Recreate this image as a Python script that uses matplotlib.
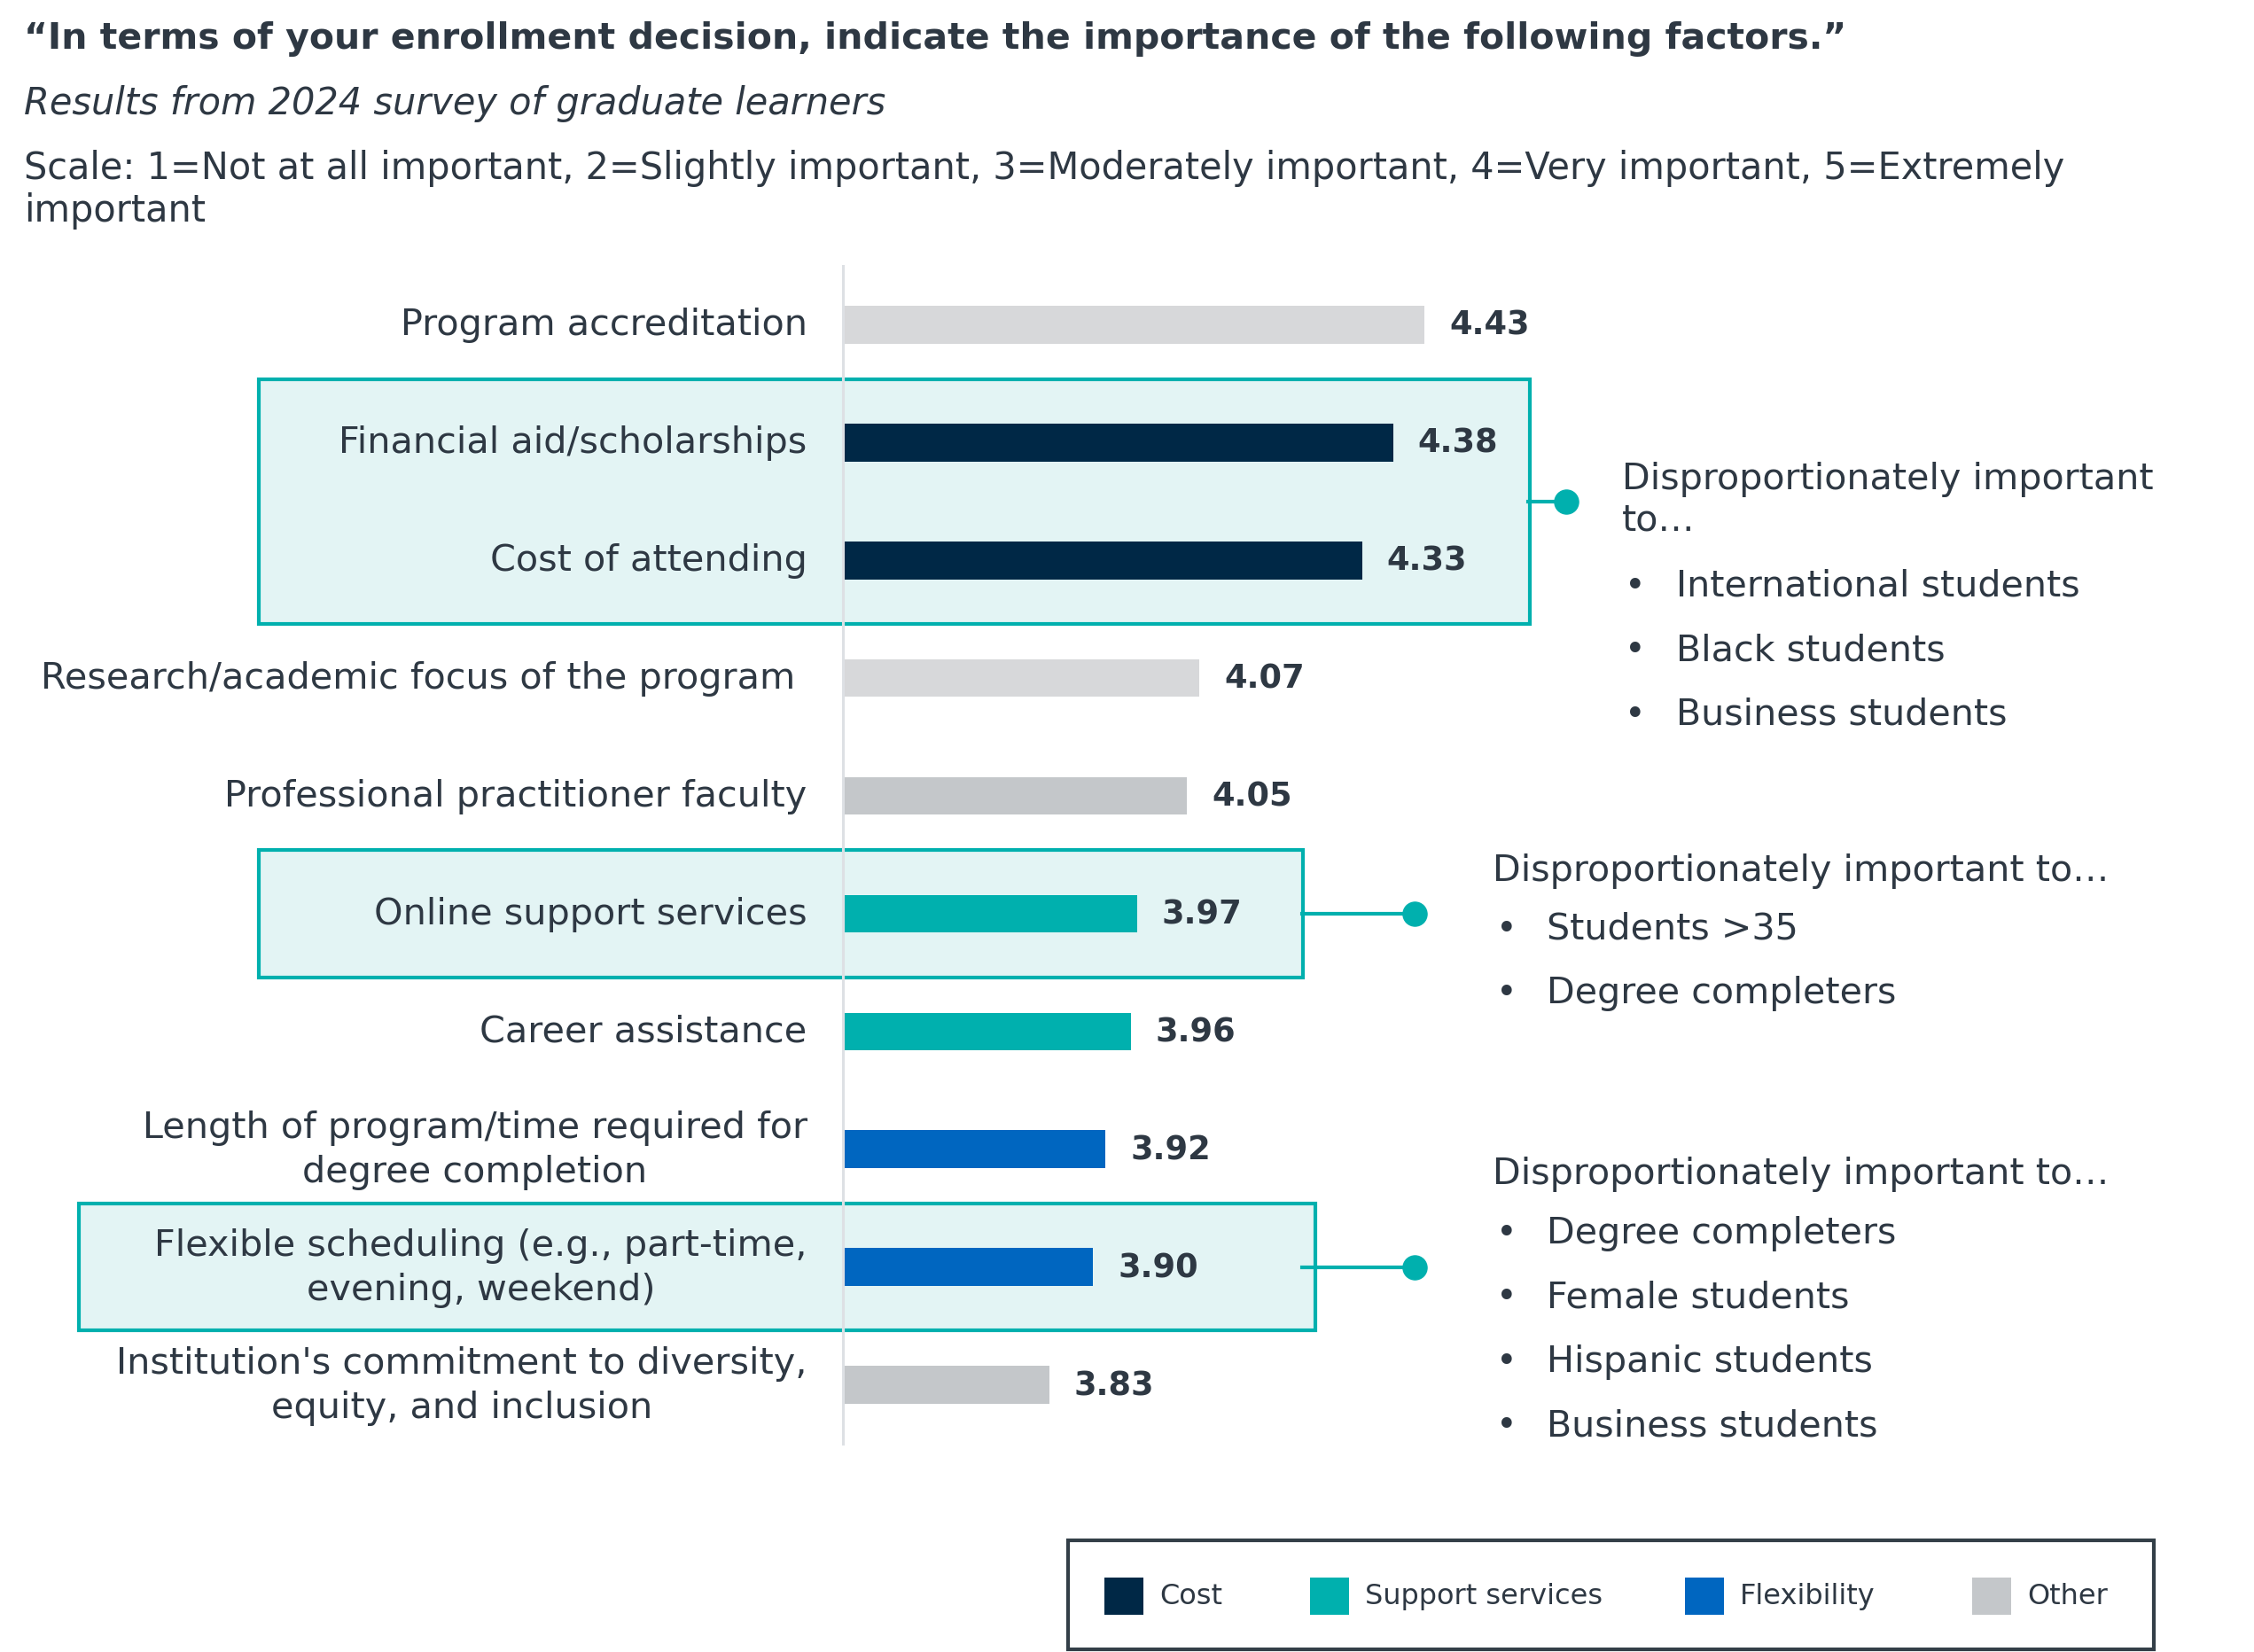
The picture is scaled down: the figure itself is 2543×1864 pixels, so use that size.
import matplotlib
matplotlib.use("Agg")
import matplotlib.pyplot as plt
from matplotlib.patches import Rectangle
from matplotlib.lines import Line2D
from matplotlib.transforms import blended_transform_factory

# --- data -----------------------------------------------------------------
factors = [
    "Program accreditation",
    "Financial aid/scholarships",
    "Cost of attending",
    "Research/academic focus of the program ",
    "Professional practitioner faculty",
    "Online support services",
    "Career assistance",
    "Length of program/time required for\ndegree completion",
    "Flexible scheduling (e.g., part-time,\nevening, weekend)",
    "Institution's commitment to diversity,\nequity, and inclusion",
]
scores = [4.43, 4.38, 4.33, 4.07, 4.05, 3.97, 3.96, 3.92, 3.90, 3.83]
groups = ["Other", "Cost", "Cost", "Other", "Other",
          "Support services", "Support services",
          "Flexibility", "Flexibility", "Other"]

legend_labels = ["Cost", "Support services", "Flexibility", "Other"]

callout_rows = [(1, 2), (5, 5), (8, 8)]
callout_head = ["Disproportionately important\nto\u2026",
                "Disproportionately important to\u2026",
                "Disproportionately important to\u2026"]
callout_items = [
    ["International students", "Black students", "Business students"],
    ["Students >35", "Degree completers"],
    ["Degree completers", "Female students", "Hispanic students", "Business students"],
]

title = "\u201cIn terms of your enrollment decision, indicate the importance of the following factors.\u201d"
subtitle = "Results from 2024 survey of graduate learners"
scale_note = ("Scale: 1=Not at all important, 2=Slightly important, 3=Moderately important, "
              "4=Very important, 5=Extremely\nimportant")

# --- style ----------------------------------------------------------------
TEXT = "#2E3843"
TEAL = "#00B0AE"
group_colors = {"Cost": "#002846", "Support services": "#00B0AE",
                "Flexibility": "#0066C0", "Other": "#C4C7CA"}
LIGHT_GRAY = "#D7D8DA"
light_rows = [0, 3]
plt.rcParams["font.family"] = ["DejaVu Sans"]

W, H = 2543, 1865
fig = plt.figure(figsize=(W / 100, H / 100), dpi=100)

ax = fig.add_axes([951 / W, 0.126, 0.2775 * 1.0, 0.7126])
colors = [group_colors[g] for g in groups]
for i in light_rows:
    colors[i] = LIGHT_GRAY
y = list(range(len(factors)))
ax.barh(y, [s - 3.5 for s in scores], left=3.5, height=0.32,
        color=colors, zorder=2)
ax.set_xlim(3.5, 4.5)
ax.set_ylim(len(factors) - 0.5, -0.5)
ax.set_yticks(y)
ax.set_yticklabels(factors, fontsize=29.8, color=TEXT, multialignment="center",
                   linespacing=1.32, va="center")
ax.tick_params(axis="y", length=0, pad=29)
ax.set_xticks([])
ax.patch.set_visible(False)
for side in ["top", "right", "bottom"]:
    ax.spines[side].set_visible(False)
ax.spines["left"].set_color("#DDE0E4")
ax.spines["left"].set_linewidth(2.2)
ax.spines["left"].set_zorder(3)

for yi, s in zip(y, scores):
    ax.annotate(f"{s:.2f}", xy=(s, yi), xytext=(20, 0), textcoords="offset points",
                ha="left", va="center", fontsize=26.5, fontweight="bold", color=TEXT)

# callout boxes, x in figure fraction, y in data
bt = blended_transform_factory(fig.transFigure, ax.transData)
box_x = [(292 / W, 1726 / W), (292 / W, 1470 / W), (89 / W, 1484 / W)]
link_x = [(1724 / W, 1767 / W), (1469 / W, 1596 / W), (1469 / W, 1596 / W)]
for (r0, r1), (x0, x1), (lx0, lx1) in zip(callout_rows, box_x, link_x):
    ax.add_patch(Rectangle((x0, r0 - 0.54), x1 - x0, (r1 - r0) + 1.08,
                           transform=bt, facecolor="#E3F4F4", edgecolor=TEAL,
                           linewidth=3, clip_on=False, zorder=0.5))
    yc = (r0 + r1) / 2
    ax.add_line(Line2D([lx0, lx1], [yc, yc], transform=bt, color=TEAL, lw=3,
                       clip_on=False, zorder=1))
    ax.add_line(Line2D([lx1], [yc], transform=bt, marker="o", markersize=19.5,
                       color=TEAL, clip_on=False, zorder=1))

# callout texts
head_pos = [(1830 / W, 564), (1684 / W, 983), (1684 / W, 1325)]
item_pos = [(1833 / W, 1891 / W, 662), (1688 / W, 1745 / W, 1049),
            (1688 / W, 1745 / W, 1392)]
for head, items, (hx, hy), (bx, tx, iy) in zip(callout_head, callout_items, head_pos, item_pos):
    fig.text(hx, 1 - hy / H, head, fontsize=29.7, color=TEXT, ha="left", va="center",
             linespacing=1.2)
    for k, item in enumerate(items):
        yy = 1 - (iy + k * 72.5) / H
        fig.text(bx, yy, "\u2022", fontsize=29, color=TEXT, ha="left", va="center")
        fig.text(tx, yy, item, fontsize=29.7, color=TEXT, ha="left", va="center")

# titles
fig.text(27 / W, 1 - 44 / H, title, fontsize=29.5, fontweight="bold", color=TEXT,
         ha="left", va="center")
fig.text(27 / W, 1 - 117 / H, subtitle, fontsize=29.9, style="italic", color=TEXT,
         ha="left", va="center")
fig.text(27 / W, 1 - 214 / H, scale_note, fontsize=29.9, color=TEXT,
         ha="left", va="center", linespacing=1.2)

# legend
fig.add_artist(Rectangle((1205 / W, 3 / H), (2430 - 1205) / W, (1862 - 1739) / H,
                         transform=fig.transFigure, facecolor="white",
                         edgecolor="#333F48", linewidth=3))
patch_x = [1246, 1478, 1901, 2225]
ly = 1 - 1802 / H
for px, lab in zip(patch_x, legend_labels):
    fig.add_artist(Rectangle((px / W, ly - 21 / H), 44 / W, 42 / H,
                             transform=fig.transFigure,
                             facecolor=group_colors[lab], edgecolor="none"))
    fig.text((px + 62) / W, ly, lab, fontsize=23, color=TEXT, ha="left", va="center")

fig.savefig("out.png", dpi=100)
